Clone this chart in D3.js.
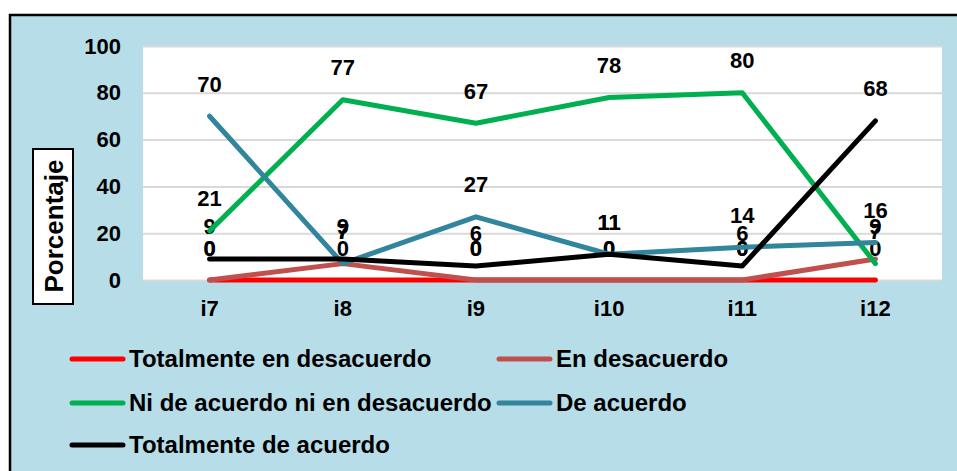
<!DOCTYPE html>
<html>
<head>
<meta charset="utf-8">
<script src="https://cdn.jsdelivr.net/npm/d3@7"></script>
<style>
  html, body { margin: 0; padding: 0; background: #ffffff; }
  svg { display: block; }
  text { font-family: "Liberation Sans", Arial, sans-serif; font-weight: bold; fill: #000; }
</style>
</head>
<body>
<svg id="chart" width="957" height="471"></svg>
<script>
const categories = ["i7", "i8", "i9", "i10", "i11", "i12"];
const seriesNames = ["Totalmente en desacuerdo", "En desacuerdo", "Ni de acuerdo ni en desacuerdo", "De acuerdo", "Totalmente de acuerdo"];
const totalmenteEnDesacuerdo = [0, 0, 0, 0, 0, 0];
const enDesacuerdo = [0, 7, 0, 0, 0, 9];
const niDeAcuerdoNiEnDesacuerdo = [21, 77, 67, 78, 80, 7];
const deAcuerdo = [70, 7, 27, 11, 14, 16];
const totalmenteDeAcuerdo = [9, 9, 6, 11, 6, 68];
const seriesColors = ["#ff0000", "#c0504d", "#00b050", "#31859c", "#000000"];
const yTicks = [0, 20, 40, 60, 80, 100];
const yTitle = "Porcentaje";

const seriesValues = [totalmenteEnDesacuerdo, enDesacuerdo, niDeAcuerdoNiEnDesacuerdo, deAcuerdo, totalmenteDeAcuerdo];
const series = seriesNames.map((n, i) => ({ name: n, values: seriesValues[i], color: seriesColors[i] }));

const svg = d3.select("#chart");

// chart area background + border
svg.append("rect").attr("x", 10).attr("y", 15).attr("width", 960).attr("height", 470)
  .attr("fill", "#b7dde8").attr("stroke", "#000").attr("stroke-width", 2.5);

const plot = { left: 143, right: 942, top: 46, bottom: 280 };

const x = d3.scaleBand().domain(categories).range([plot.left, plot.right]);
const y = d3.scaleLinear().domain([0, 100]).range([plot.bottom, plot.top]);

svg.append("rect").attr("x", plot.left).attr("y", plot.top)
  .attr("width", plot.right - plot.left).attr("height", plot.bottom - plot.top)
  .attr("fill", "#ffffff");

// gridlines
const yAxis = d3.axisLeft(y).tickValues(yTicks).tickSize(-(plot.right - plot.left)).tickPadding(22);
const gy = svg.append("g").attr("transform", `translate(${plot.left},0)`).call(yAxis);
gy.select(".domain").remove();
gy.selectAll(".tick line").attr("stroke", "#d9d9d9").attr("stroke-width", 2);
gy.selectAll(".tick text").style("font-size", "22px").attr("font-family", null);

// x axis labels
const xAxis = d3.axisBottom(x).tickSize(0).tickPadding(20);
const gx = svg.append("g").attr("transform", `translate(0,${plot.bottom})`).call(xAxis);
gx.select(".domain").remove();
gx.selectAll(".tick text").style("font-size", "22px").attr("font-family", null);

const cx = d => x(d) + x.bandwidth() / 2;

// data labels (drawn beneath lines)
series.forEach(s => {
  svg.append("g").selectAll("text").data(s.values).join("text")
    .attr("x", (v, i) => cx(categories[i]))
    .attr("y", v => y(v) - 32)
    .attr("text-anchor", "middle")
    .attr("dominant-baseline", "central")
    .style("font-size", "22px")
    .text(v => v);
});

// lines
const line = d3.line().x((v, i) => cx(categories[i])).y(v => y(v));
series.forEach(s => {
  svg.append("path").datum(s.values).attr("d", line)
    .attr("fill", "none").attr("stroke", s.color).attr("stroke-width", 5)
    .attr("stroke-linecap", "round").attr("stroke-linejoin", "round");
});

// y title
const tg = svg.append("g");
tg.append("rect").attr("x", 33).attr("y", 149).attr("width", 40).attr("height", 155)
  .attr("fill", "#ffffff").attr("stroke", "#000").attr("stroke-width", 2);
tg.append("text").attr("transform", "translate(54,226) rotate(-90)")
  .attr("text-anchor", "middle").attr("dominant-baseline", "central")
  .style("font-size", "26px").text(yTitle);

// legend
const legendPos = [
  { lx: 70, ty: 358 }, { lx: 497, ty: 358 },
  { lx: 70, ty: 402 }, { lx: 497, ty: 402 },
  { lx: 70, ty: 444 }
];
series.forEach((s, i) => {
  const p = legendPos[i];
  const g = svg.append("g");
  g.append("line").attr("x1", p.lx + 2).attr("x2", p.lx + 53).attr("y1", p.ty + 1).attr("y2", p.ty + 1)
    .attr("stroke", s.color).attr("stroke-width", 5).attr("stroke-linecap", "round");
  g.append("text").attr("x", p.lx + 59).attr("y", p.ty).attr("dominant-baseline", "central")
    .style("font-size", "24px").text(s.name);
});
</script>
</body>
</html>
